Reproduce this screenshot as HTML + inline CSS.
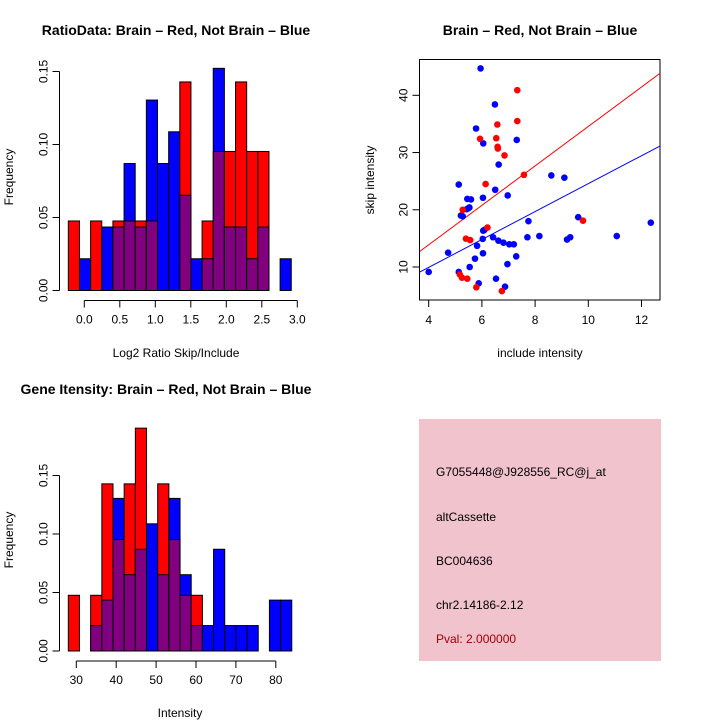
<!DOCTYPE html>
<html><head><meta charset="utf-8">
<style>
html,body{margin:0;padding:0;background:#fff;}
svg{display:block;font-family:"Liberation Sans",sans-serif;}
</style></head>
<body>
<svg id="root" width="720" height="720" viewBox="0 0 720 720">
  <text x="176" y="35" text-anchor="middle" font-size="14" font-weight="bold">RatioData: Brain – Red, Not Brain – Blue</text>
  <text x="540" y="35" text-anchor="middle" font-size="14" font-weight="bold">Brain – Red, Not Brain – Blue</text>
  <text x="166" y="394" text-anchor="middle" font-size="14" font-weight="bold">Gene Itensity: Brain – Red, Not Brain – Blue</text>
  <text x="176" y="357" text-anchor="middle" font-size="12">Log2 Ratio Skip/Include</text>
  <text x="540" y="357" text-anchor="middle" font-size="12">include intensity</text>
  <text x="180" y="717" text-anchor="middle" font-size="12">Intensity</text>
  <text transform="translate(13,177) rotate(-90)" text-anchor="middle" font-size="12">Frequency</text>
  <text transform="translate(13,540) rotate(-90)" text-anchor="middle" font-size="12">Frequency</text>
  <text transform="translate(374,180) rotate(-90)" text-anchor="middle" font-size="12">skip intensity</text>

  <g>
    <rect x="419" y="419" width="242" height="242" fill="#f1c3cd"/>
    <text x="436" y="476" font-size="12">G7055448@J928556_RC@j_at</text>
    <text x="436" y="521" font-size="12">altCassette</text>
    <text x="436" y="565" font-size="12">BC004636</text>
    <text x="436" y="609" font-size="12">chr2.14186-2.12</text>
    <text x="436" y="643" font-size="12" fill="#a00000">Pval: 2.000000</text>
  </g>
  <g id="g1"></g><g id="g2"></g><g id="g3"></g>
</svg>
<script>
// ---- Ratio histogram data (counts per bin) ----
const ratioBinStart = -0.225;
const ratioBinWidth = 0.157;
const ratioRedCounts = [1,0,1,0,1,1,1,1,0,0,3,0,1,2,2,3,2,2,0,0];
const ratioBlueCounts = [0,1,0,2,2,4,2,6,4,5,3,1,1,7,2,2,1,2,0,1];
const ratioRedTotal = 21;
const ratioBlueTotal = 46;
const ratioXTicks = [0.0,0.5,1.0,1.5,2.0,2.5,3.0];
const ratioXTickLabels = ["0.0","0.5","1.0","1.5","2.0","2.5","3.0"];
const ratioYTicks = [0,0.05,0.10,0.15];
const ratioYTickLabels = ["0.00","0.05","0.10","0.15"];

// ---- Intensity histogram data ----
const intBinStart = 28.0;
const intBinWidth = 2.8;
const intRedCounts = [1,0,1,3,2,3,4,0,3,2,1,1,0,0,0,0,0,0,0,0];
const intBlueCounts = [0,0,1,2,6,3,4,5,3,6,3,1,1,4,1,1,1,0,2,2];
const intRedTotal = 21;
const intBlueTotal = 46;
const intXTicks = [30,40,50,60,70,80];
const intXTickLabels = ["30","40","50","60","70","80"];
const intYTicks = [0,0.05,0.10,0.15];
const intYTickLabels = ["0.00","0.05","0.10","0.15"];

// ---- Scatter data ----
const blueX = [5.95,6.49,5.78,6.05,7.31,6.63,5.13,6.50,6.97,5.45,5.59,6.04,5.49,5.43,5.53,5.21,5.28,8.61,9.10,9.62,7.75,6.05,6.10,6.03,6.42,6.62,6.81,7.03,7.20,7.71,8.16,9.20,9.32,11.07,12.35,4.73,5.82,6.04,5.74,7.29,5.54,6.96,4.0,5.13,5.88,6.53,6.87];
const blueY = [44.7,38.4,34.2,31.6,32.2,27.9,24.4,23.5,22.5,21.9,21.8,22.1,20.25,20.1,20.4,19.0,18.85,26.0,25.6,18.7,18.0,16.35,16.5,14.9,15.2,14.6,14.25,13.96,13.96,15.2,15.4,14.8,15.2,15.4,17.75,12.5,13.7,12.4,11.46,11.86,10.0,10.5,9.13,9.13,7.15,7.96,6.56];
const redX = [7.33,7.33,6.58,5.93,6.54,6.59,6.60,6.85,7.58,6.14,5.28,6.21,5.40,5.56,9.80,5.17,5.25,5.45,5.79,6.75];
const redY = [40.9,35.5,34.9,32.4,32.5,31.0,30.7,29.5,26.1,24.5,20.0,16.9,14.95,14.7,18.1,8.7,8.14,7.96,6.45,5.8];
const redFit = [0.10, 3.446];   // intercept, slope
const blueFit = [0.175, 2.439];
const scXTicks = [4,6,8,10,12];
const scXTickLabels = ["4","6","8","10","12"];
const scYTicks = [10,20,30,40];
const scYTickLabels = ["10","20","30","40"];

const NS = "http://www.w3.org/2000/svg";
function mk(parent, tag, attrs, text){
  const e = document.createElementNS(NS, tag);
  for (const k in attrs) e.setAttribute(k, attrs[k]);
  if (text !== undefined) e.textContent = text;
  parent.appendChild(e);
  return e;
}

function histogram(g, prefix, cfg){
  const sx = v => cfg.x0 + (v - cfg.d0) * cfg.kx;
  const sy = v => cfg.base - v * cfg.ky;
  const n = cfg.red.length;
  for (let i = 0; i < n; i++){
    const l = sx(cfg.start + i*cfg.width), r = sx(cfg.start + (i+1)*cfg.width);
    const rv = cfg.red[i]/cfg.redTot, bv = cfg.blue[i]/cfg.blueTot;
    const draw = (v, col, nm) => {
      if (v <= 0) return;
      const e = mk(g, "rect", {x:l, y:sy(v), width:r-l, height:cfg.base - sy(v), fill:col, stroke:"#000", "stroke-width":1});
      
      
    };
    if (rv >= bv){ draw(rv, "#ff0000", prefix+"-red-bar-"+i); }
    else { draw(bv, "#0000ff", prefix+"-blue-bar-"+i); }
    if (rv > 0 && bv > 0) draw(Math.min(rv,bv), "#800080", prefix+"-overlap-bar-"+i);
    else if (rv < bv && rv > 0) draw(rv, "#ff0000", prefix+"-red-bar-"+i);
  }
  // x axis
  const xa = mk(g, "g", {});
  
  
  const ay = cfg.base + 10;
  mk(xa, "line", {x1:sx(cfg.xt[0]), x2:sx(cfg.xt[cfg.xt.length-1]), y1:ay, y2:ay, stroke:"#000"});
  cfg.xt.forEach((t,i)=>{
    mk(xa,"line",{x1:sx(t),x2:sx(t),y1:ay,y2:ay+7,stroke:"#000"});
    const tl = mk(xa,"text",{x:sx(t),y:ay+23,"text-anchor":"middle","font-size":12},cfg.xl[i]);
    
    
  });
  // y axis
  const ya = mk(g, "g", {});
  
  
  const ax = 59.5;
  mk(ya,"line",{x1:ax,x2:ax,y1:sy(cfg.yt[0]),y2:sy(cfg.yt[cfg.yt.length-1]),stroke:"#000"});
  cfg.yt.forEach((t,i)=>{
    mk(ya,"line",{x1:ax-7,x2:ax,y1:sy(t),y2:sy(t),stroke:"#000"});
    const tl = mk(ya,"text",{transform:`translate(${ax-12},${sy(t)}) rotate(-90)`,"text-anchor":"middle","font-size":12},cfg.yl[i]);
    
    
  });
}

const g1 = document.getElementById("g1");


histogram(g1, "ratio", {x0:84.3, d0:0, kx:71.0, base:290.5, ky:1460,
  start:ratioBinStart, width:ratioBinWidth, red:ratioRedCounts, blue:ratioBlueCounts,
  redTot:ratioRedTotal, blueTot:ratioBlueTotal, xt:ratioXTicks, xl:ratioXTickLabels, yt:ratioYTicks, yl:ratioYTickLabels});

const g3 = document.getElementById("g3");


histogram(g3, "intensity", {x0:76.3, d0:30, kx:3.99, base:651, ky:1170,
  start:intBinStart, width:intBinWidth, red:intRedCounts, blue:intBlueCounts,
  redTot:intRedTotal, blueTot:intBlueTotal, xt:intXTicks, xl:intXTickLabels, yt:intYTicks, yl:intYTickLabels});

// scatter
const g2 = document.getElementById("g2");


const L=419.5,R=660,T=59.5,B=300;
const px = v => 428.7 + (v-4)*26.6;
const py = v => 267 - (v-10)*5.723;
const frame = mk(g2,"rect",{x:L,y:T,width:R-L,height:B-T,fill:"none",stroke:"#000"});


const xmin = 4+(L-428.7)/26.6, xmax = 4+(R-428.7)/26.6;
const cp = document.createElementNS(NS,"clipPath"); cp.setAttribute("id","sclip");
mk(cp,"rect",{x:L,y:T,width:R-L,height:B-T}); g2.appendChild(cp);
[[redFit,"#ff0000","red-fit-line"],[blueFit,"#0000ff","blue-fit-line"]].forEach(([f,c,nm])=>{
  const e = mk(g2,"line",{x1:px(xmin),y1:py(f[0]+f[1]*xmin),x2:px(xmax),y2:py(f[0]+f[1]*xmax),stroke:c,"stroke-width":1,"clip-path":"url(#sclip)"});
  
  
});
blueX.forEach((x,i)=>{
  const e = mk(g2,"circle",{cx:px(x),cy:py(blueY[i]),r:3.3,fill:"#0000ff"});
  
  
});
redX.forEach((x,i)=>{
  const e = mk(g2,"circle",{cx:px(x),cy:py(redY[i]),r:3.3,fill:"#ff0000"});
  
  
});
scXTicks.forEach((t,i)=>{
  mk(g2,"line",{x1:px(t),x2:px(t),y1:B,y2:B+7,stroke:"#000"});
  const tl = mk(g2,"text",{x:px(t),y:B+24,"text-anchor":"middle","font-size":12},scXTickLabels[i]);
  
  
});
scYTicks.forEach((t,i)=>{
  mk(g2,"line",{x1:L-7,x2:L,y1:py(t),y2:py(t),stroke:"#000"});
  const tl = mk(g2,"text",{transform:`translate(${L-12},${py(t)}) rotate(-90)`,"text-anchor":"middle","font-size":12},scYTickLabels[i]);
  
  
});
</script>
</body></html>
